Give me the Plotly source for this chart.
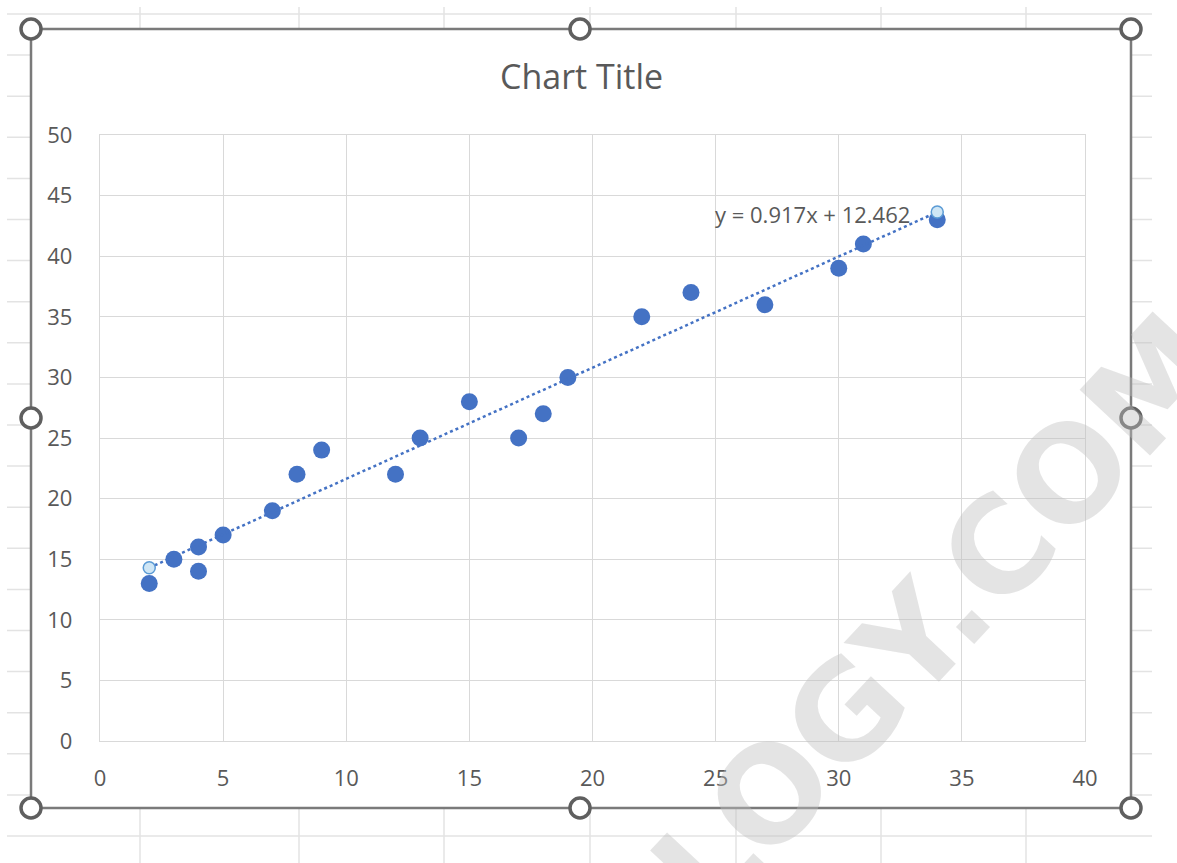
import plotly.graph_objects as go

# ---------------- data ----------------
x_vals = [2, 3, 4, 4, 5, 7, 8, 9, 12, 13, 15, 17, 18, 19, 22, 24, 27, 30, 31, 34]
y_vals = [13, 15, 16, 14, 17, 19, 22, 24, 22, 25, 28, 25, 27, 30, 35, 37, 36, 39, 41, 43]
trend_slope = 0.917
trend_intercept = 12.462
trend_x = [2, 34]
trend_y = [trend_slope * v + trend_intercept for v in trend_x]
equation_text = "y = 0.917x + 12.462"
chart_title = "Chart Title"
x_ticks = [0, 5, 10, 15, 20, 25, 30, 35, 40]
y_ticks = [0, 5, 10, 15, 20, 25, 30, 35, 40, 45, 50]
watermark = "OLOGY.COM"

W, H = 1177, 863
PL, PR, PT, PB = 100, 1085, 135, 741  # plot area in pixels


def px(x):
    return (x - PL) / (PR - PL)


def py(y):
    return (PB - y) / (PB - PT)


FONT = "Open Sans, Liberation Sans, sans-serif"
GREY_TXT = "#595959"
BLUE = "#4472C4"

shapes = []
# spreadsheet cell gridlines (background)
sheet_rows = [14 + 41.1 * k for k in range(21)]
sheet_cols = [140, 299, 444, 590, 736, 881, 1026]
for yy in sheet_rows:
    shapes.append(dict(type="line", xref="paper", yref="paper", layer="below",
                       x0=px(7), x1=px(1152), y0=py(yy), y1=py(yy),
                       line=dict(color="#e3e3e3", width=1.5)))
for xx in sheet_cols:
    shapes.append(dict(type="line", xref="paper", yref="paper", layer="below",
                       x0=px(xx), x1=px(xx), y0=py(7), y1=py(H),
                       line=dict(color="#e3e3e3", width=1.5)))
# chart area
shapes.append(dict(type="rect", xref="paper", yref="paper", layer="below",
                   x0=px(31), x1=px(1131), y0=py(29), y1=py(808),
                   fillcolor="white", line=dict(color="#7a7a7a", width=2.5)))
# selection handles
r = 10
for hx, hy in [(31, 29), (580, 29), (1131, 29), (31, 418), (1131, 418),
               (31, 808), (580, 808), (1131, 808)]:
    shapes.append(dict(type="circle", xref="paper", yref="paper", layer="above",
                       x0=px(hx - r), x1=px(hx + r), y0=py(hy - r), y1=py(hy + r),
                       fillcolor="white", line=dict(color="#5f5f5f", width=3.5)))

fig = go.Figure()
fig.add_trace(go.Scatter(
    x=x_vals, y=y_vals, mode="markers",
    marker=dict(color=BLUE, size=17, line=dict(width=0)),
    showlegend=False, cliponaxis=False))
fig.add_trace(go.Scatter(
    x=trend_x, y=trend_y, mode="lines",
    line=dict(color=BLUE, width=2.5, dash="dot"),
    showlegend=False))
fig.add_trace(go.Scatter(
    x=trend_x, y=trend_y, mode="markers",
    marker=dict(color="#cfe6f5", size=12, line=dict(color="#5b9bd5", width=1.5)),
    showlegend=False, cliponaxis=False))

annotations = [
    dict(xref="paper", yref="paper", x=px(581), y=py(76), text=chart_title,
         showarrow=False, xanchor="center", yanchor="middle",
         font=dict(family=FONT, size=34, color=GREY_TXT)),
    dict(xref="x", yref="y", x=(912 - PL) / (PR - PL) * 40, y=(PB - 214) / (PB - PT) * 50,
         text=equation_text, showarrow=False, xanchor="right", yanchor="middle",
         font=dict(family=FONT, size=22, color=GREY_TXT)),
    dict(xref="paper", yref="paper", x=px(900), y=py(656), text="<b>" + watermark + "</b>",
         showarrow=False, textangle=-47, xanchor="center", yanchor="middle",
         font=dict(family="DejaVu Sans, sans-serif", size=132, color="rgba(190,190,190,0.42)")),
]

fig.update_layout(
    width=W, height=H,
    margin=dict(l=PL, r=W - PR, t=PT, b=H - PB, pad=0),
    paper_bgcolor="white", plot_bgcolor="rgba(0,0,0,0)",
    shapes=shapes, annotations=annotations,
    font=dict(family=FONT, color=GREY_TXT),
)
fig.update_xaxes(range=[0, 40], tickvals=x_ticks, showgrid=True, gridcolor="#d9d9d9",
                 gridwidth=1.3, zeroline=False, showline=True, linecolor="#d9d9d9",
                 linewidth=1.3, mirror=True, ticks="outside", ticklen=17,
                 tickcolor="rgba(0,0,0,0)", tickfont=dict(family=FONT, size=22, color=GREY_TXT))
fig.update_yaxes(range=[0, 50], tickvals=y_ticks, showgrid=True, gridcolor="#d9d9d9",
                 gridwidth=1.3, zeroline=False, showline=True, linecolor="#d9d9d9",
                 linewidth=1.3, mirror=True, ticks="outside", ticklen=22,
                 tickcolor="rgba(0,0,0,0)", tickfont=dict(family=FONT, size=22, color=GREY_TXT))

fig.write_html("out.html", config={"displayModeBar": False},
               post_script="document.body.style.margin='0';document.body.style.overflow='hidden';")
